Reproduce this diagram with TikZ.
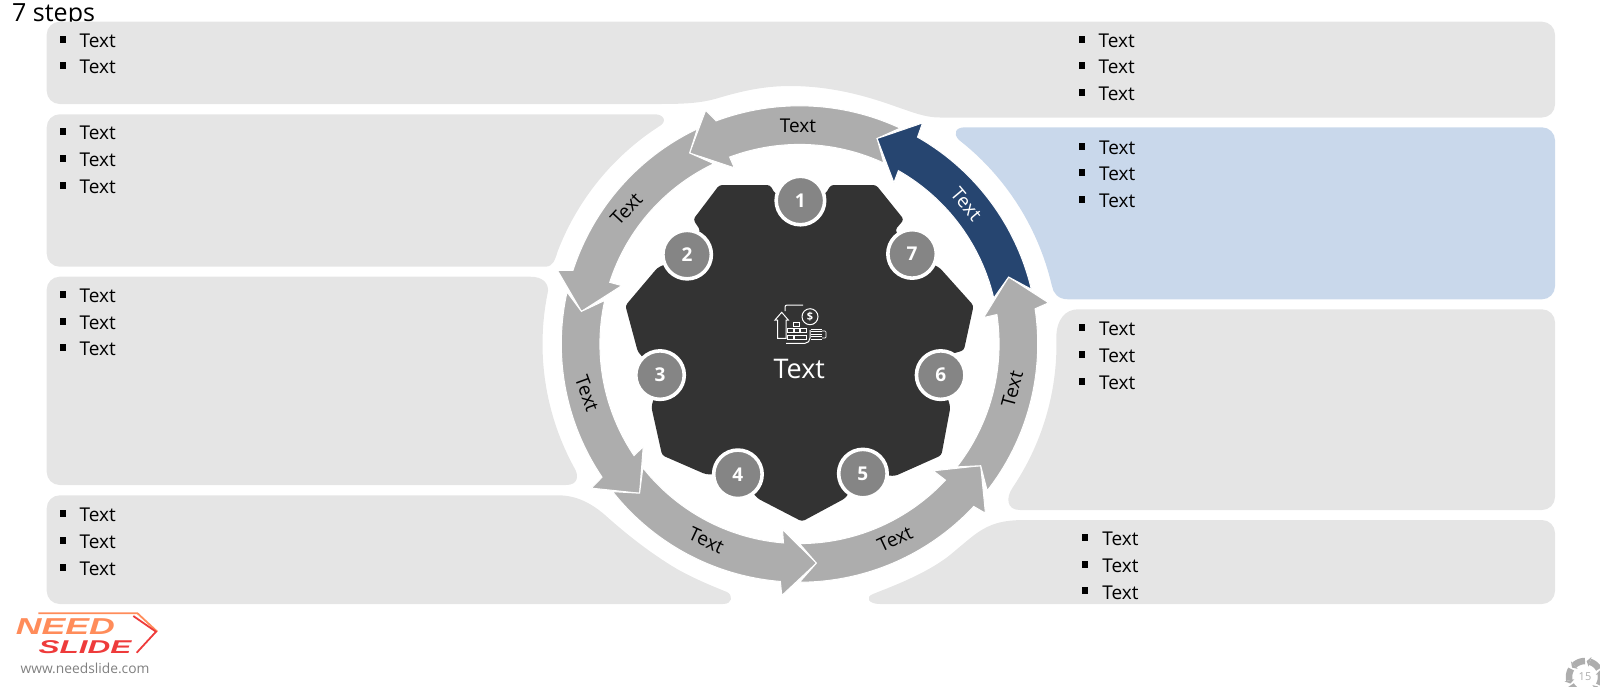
\documentclass[tikz,border=0pt]{standalone}
\usepackage{fontspec}
\setmainfont{Open Sans}
\newfontfamily\logofont{Liberation Sans}
\usepackage{xcolor}
\usepackage{tikz}
\definecolor{panelgray}{HTML}{E5E5E5}
\definecolor{panelblue}{HTML}{C9D8EB}
\definecolor{arrowgray}{HTML}{ADADAD}
\definecolor{arrownavy}{HTML}{264570}
\definecolor{hubdark}{HTML}{333333}
\definecolor{stepgray}{HTML}{858585}
\definecolor{logoorange}{HTML}{FF8C5A}
\definecolor{logored}{HTML}{EE3B3B}
\tikzset{
    itemtext/.style={anchor=west,inner sep=0pt,font=\fontsize{19}{19}\selectfont},
    itemmark/.style={fill=black,inner sep=0pt,minimum width=6pt,minimum height=7pt},
    ringarrow/.style={draw=white,line width=1pt,line join=miter},
    ringtext/.style={inner sep=0pt,font=\fontsize{19}{19}\selectfont},
    stepdot/.style={circle,fill=stepgray,draw=white,line width=3.6pt,inner sep=0pt,minimum size=48.5pt,
        text=white,font=\fontsize{19}{19}\selectfont\bfseries},
    iconline/.style={draw=white,line width=1pt}
}
\def\cx{799.5}
\def\cy{344}
\begin{document}
\begin{tikzpicture}[x=1pt,y=-1pt]
    \useasboundingbox (0,0) rectangle (1600,686);
    \clip (0,0) rectangle (1600,686);
    % title goes under the top panel
    \node[anchor=base west,inner sep=0pt,font=\fontsize{25}{25}\selectfont] (title) at (12,21.5) {7 steps};

    % panels
    \fill[panelgray] (300,21.7) [rounded corners=13] -- (1555,21.7) -- (1555,117.5) [sharp corners] -- (940,117.5)
        .. controls (925,117.5) and (912,112) .. (900,108) .. controls (880,101) and (840,86) .. (790,86)
        .. controls (760,86) and (735,93) .. (715,99) .. controls (700,103) and (685,104) .. (660,104)
        [rounded corners=13] -- (46.7,104) -- (46.7,21.7) -- cycle;
    \fill[panelgray] (300,114.3) -- (655,114.3) .. controls (664,114.3) and (668,122) .. (658.4,126.8)
        -- plot[domain=123:159,samples=24] ({\cx+259*cos(\x)},{\cy-259*sin(\x)})
        .. controls (555,260) and (553,266.7) .. (545,266.7)
        [rounded corners=13] -- (46.7,266.7) -- (46.7,114.3) -- cycle;
    \fill[panelgray] (300,276.7) -- (530,276.7) .. controls (543,276.7) and (548,283) .. (548.1,290.6)
        -- plot[domain=168:209,samples=24] ({\cx+257*cos(\x)},{\cy-257*sin(\x)})
        .. controls (579,476) and (578,485) .. (566,485)
        [rounded corners=13] -- (46.7,485) -- (46.7,276.7) -- cycle;
    \fill[panelgray] (300,495.3) -- (558,495.3) .. controls (575,495.3) and (590,502) .. (605,515)
        .. controls (625,533) and (650,553) .. (677,569) .. controls (695,579) and (712,586) .. (727,592)
        .. controls (733,595) and (733,604) .. (723,604)
        [rounded corners=13] -- (46.7,604) -- (46.7,495.3) -- cycle;
    \fill[panelgray] (1300,520) [rounded corners=13] -- (1555,520) -- (1555,604) [sharp corners] -- (880,604)
        .. controls (868,604) and (865,597) .. (873,594) .. controls (885,589) and (925,575) .. (950,555)
        .. controls (962,545) and (970,538) .. (977,533) .. controls (990,524) and (1002,520) .. (1025,520) -- cycle;
    \fill[panelgray] (1300,309.3) [rounded corners=13] -- (1555,309.3) -- (1555,510) [sharp corners] -- (1020,510)
        .. controls (1006,510) and (1006,497) .. (1012.6,487.7)
        -- plot[domain=-34:2,samples=24] ({\cx+257*cos(\x)},{\cy-257*sin(\x)})
        .. controls (1057,320) and (1065,309.3) .. (1078,309.3) -- cycle;
    \fill[panelblue] (1300,127.3) [rounded corners=13] -- (1555,127.3) -- (1555,299.3) [sharp corners] -- (1068,299.3)
        .. controls (1058,299.3) and (1053,293) .. (1051.9,285.7)
        -- plot[domain=13:52,samples=24] ({\cx+259*cos(\x)},{\cy-259*sin(\x)})
        .. controls (953,134) and (955,127.3) .. (965,127.3) -- cycle;

    % list items
    \foreach \tx/\ty [count=\i] in {79.5/40.7,79.5/67.3,
        79.5/133.3,79.5/160,79.5/186.7,
        79.5/296,79.5/322.7,79.5/349.3,
        79.5/515.3,79.5/542,79.5/568.7,
        1098.4/40.7,1098.4/67.3,1098.4/94,
        1099/147.7,1099/174.3,1099/201,
        1099/329.3,1099/356,1099/382.7,
        1102.2/539,1102.2/565.7,1102.2/592.3} {
        \node[itemtext] (item\i) at (\tx,\ty) {Text};
        \node[itemmark] (mark\i) at ([xshift=-16.9pt,yshift=1.4pt]item\i.west) {};
    }

    % ring of arrows: tail, neck, notch, outer barb, tip, inner barb
    \foreach \tail/\neck/\nx/\ny/\ox/\oy/\px/\py/\ix/\iy/\col in {
        65/110.5/877.1/138.5/705.7/110.3/689.6/153/734.3/167.8/arrowgray,
        115.4/162/689.6/153/557.5/270.4/581.4/311.4/621.8/285.6/arrowgray,
        167.4/214/581.4/311.4/591.4/488.1/639.6/493.2/643.2/446.7/arrowgray,
        218.3/265.4/639.6/493.2/781.8/595.5/816.4/563.1/782.5/529.4/arrowgray,
        270/317/816.4/563.1/985.4/513.2/980.7/465.7/933.2/470.8/arrowgray,
        322/368.5/980.7/465.7/1048.6/302.8/1008.6/277/983.6/317.6/arrowgray,
        13.3/60.3/1008.6/277/922.5/123/877.1/138.5/893.9/182.6/arrownavy} {
        \draw[ringarrow,fill=\col] plot[domain=\tail:\neck,samples=40] ({\cx+238.2*cos(\x)},{\cy-238.2*sin(\x)})
            -- (\ox,\oy) -- (\px,\py) -- (\ix,\iy)
            -- plot[domain=\neck:\tail,samples=40] ({\cx+199.6*cos(\x)},{\cy-199.6*sin(\x)})
            -- (\nx,\ny) -- cycle;
    }
    \node[ringtext] (arrow1) at (797.9,125.5) {Text};
    \node[ringtext,rotate=47] (arrow2) at (626.4,209.1) {Text};
    \node[ringtext,rotate=-70] (arrow3) at (587.1,393.4) {Text};
    \node[ringtext,rotate=-25] (arrow4) at (706.4,540.4) {Text};
    \node[ringtext,rotate=25] (arrow5) at (895,539) {Text};
    \node[ringtext,rotate=75] (arrow6) at (1012.1,388.9) {Text};
    \node[ringtext,rotate=-50,text=white] (arrow7) at (966.4,204) {Text};

    % hub, the step dots cut the notches
    \fill[hubdark,rounded corners=3] (719.3,185) -- (770,185) -- (775,193.6) -- (800.4,200.5) -- (825.7,193.6)
        -- (830.7,185) -- (876.1,185) -- (903.9,219.5) -- (895,230.1) -- (912.1,253.9) -- (939.6,267.7)
        -- (973.6,305.6) -- (963.9,350.3) -- (952.1,353.8) -- (940.7,375.1) -- (950.4,407.1) -- (941.4,455.3)
        -- (895,476) -- (862.9,473.6) -- (845,498.4) -- (802.1,521.5) -- (757.5,498.4) -- (737.9,474.3)
        -- (705.7,474.3) -- (662.1,455.3) -- (651.4,407.1) -- (660,375.1) -- (637.9,352) -- (625.4,305.6)
        -- (657.5,267.7) -- (687.1,254.6) -- (700.4,230.5) -- (693.2,219.5) -- cycle;
    \foreach \sx/\sy/\n in {800.4/200.5/1,687.1/254.6/2,660/375.1/3,737.9/474.3/4,
        862.9/473.6/5,940.7/375.1/6,912.1/253.9/7} {
        \node[stepdot] (step\n) at (\sx,\sy) {\n};
    }
    \node[text=white,inner sep=0pt,font=\fontsize{27}{27}\selectfont] (hubtext) at (799.3,368.6) {Text};

    % icon
    \draw[iconline,rounded corners=2] (785,311) -- (785,305) -- (803,305) (786,343.3) -- (807,343.3) -- (810,340) -- (810,330);
    \draw[iconline] (781.7,312.3) -- (788.3,320) -- (786,320) -- (786,338.3) -- (777.7,338.3) -- (777.7,320) -- (775,320) -- cycle;
    \foreach \kx/\ky/\kw in {793/322/6,787.5/328.5/5.5,794/328.5/5.5,800.5/328.5/6,787.5/335/5.5,794/335/12.5} {
        \draw[iconline,line width=0.7pt] (\kx,\ky) rectangle (\kx+\kw,\ky+4);
    }
    \node[circle,draw=white,line width=1pt,inner sep=0pt,minimum size=16pt,text=white,
        font=\fontsize{11}{11}\selectfont\bfseries] (dollar) at (810,316.7) {\$};
    \foreach \cn in {329,331.5,334,336.5,339} {
        \draw[iconline,line width=0.7pt,rounded corners=1] (810.5,\cn) -- (822,\cn);
    }
    \draw[iconline,line width=0.7pt,rounded corners=1] (822,331) -- (826,331) -- (826,338) -- (822,338);

    % logo
    \draw[logoorange,line width=1.8pt] (38.3,613.3) -- (137.5,613.3) -- (157.3,631.7);
    \draw[logored,line width=1.8pt] (133.3,616) -- (156,631.7) -- (136.7,652.7);
    \node[text=logoorange,inner sep=0pt,font=\logofont\itshape\bfseries\fontsize{23}{23}\selectfont] (logoneed) at (65.3,626.7) {\scalebox{1.55}[1]{NEED}};
    \node[text=logored,inner sep=0pt,font=\logofont\itshape\bfseries\fontsize{18.5}{18.5}\selectfont] (logoslide) at (85,646.7) {\scalebox{1.7}[1]{SLIDE}};
    \node[text=gray,inner sep=0pt,font=\fontsize{13.8}{13.8}\selectfont] (logourl) at (85,668) {www.needslide.com};

    % page number
    \foreach \a in {30,90,150,210,270,330} {
        \draw[arrowgray,line width=6.5pt] plot[domain=\a:\a+42,samples=8] ({1585+16*cos(\x)},{677-16*sin(\x)});
        \fill[arrowgray] ({1585+21*cos(\a+42)},{677-21*sin(\a+42)}) -- ({1585+11*cos(\a+42)},{677-11*sin(\a+42)})
            -- ({1585+16*cos(\a+54)},{677-16*sin(\a+54)}) -- cycle;
    }
    \node[text=arrowgray,inner sep=0pt,font=\fontsize{11}{11}\selectfont] (pagenum) at (1585,677) {15};
\end{tikzpicture}
\end{document}
